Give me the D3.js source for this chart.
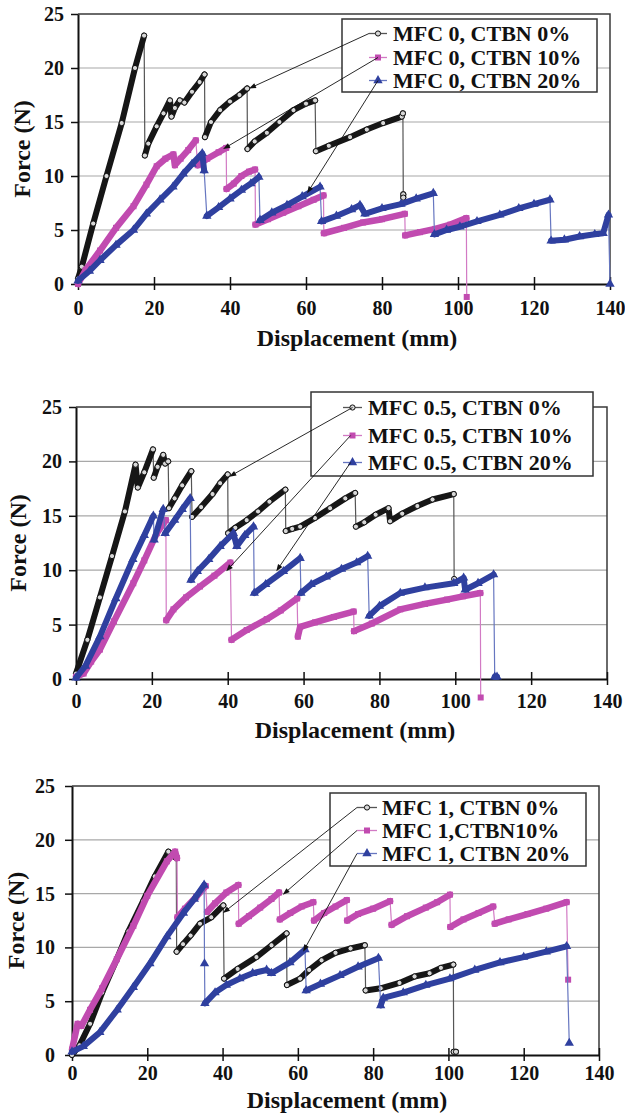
<!DOCTYPE html>
<html>
<head>
<meta charset="utf-8">
<script src="https://cdn.jsdelivr.net/npm/d3@7"></script>
<style>
  body { margin: 0; background: #fff; }
  svg text { font-family: "Liberation Serif", "Times New Roman", serif; font-weight: bold; fill: #111; }
</style>
</head>
<body>
<svg id="grafico" width="625" height="1115"></svg>
<script>
const xTicks = [0, 20, 40, 60, 80, 100, 120, 140];
const yTicks = [0, 5, 10, 15, 20, 25];

const legendas1 = ['MFC 0, CTBN 0%', 'MFC 0, CTBN 10%', 'MFC 0, CTBN 20%'];
const legendas2 = ['MFC 0.5, CTBN 0%', 'MFC 0.5, CTBN 10%', 'MFC 0.5, CTBN 20%'];
const legendas3 = ['MFC 1, CTBN 0%', 'MFC 1,CTBN10%', 'MFC 1, CTBN 20%'];

// [deslocamento (mm), forca (N)]
const p1Ctbn0 = [[0,0.5],[1,1.6],[4,5.6],[7.5,10],[11.5,14.9],[15,20],[17.4,23],[17.6,11.9],[18.5,13],[20.7,14.6],[22.5,15.8],[24.2,17],[24.6,15.5],[25.5,16.3],[26.8,17],[28,16.8],[30,17.8],[32,18.7],[33.3,19.4],[33.4,13.6],[35,15],[37.4,16.1],[40,16.9],[42.5,17.5],[44.5,18.1],[44.6,12.5],[46.5,13.2],[49.7,14],[53,15],[56.7,16.1],[60,16.7],[62.4,17],[62.6,12.3],[66,12.8],[71.6,13.6],[76,14.3],[80.3,14.9],[85.2,15.5],[85.5,15.8],[85.6,8.3],[85.6,8.0]];
const p1Ctbn10 = [[0,0],[2,1.3],[5.8,3.1],[10,5.2],[14.6,7.2],[18,9.2],[20.7,10.9],[23,11.6],[25.1,12],[25.5,11],[27,11.6],[29,12.4],[31,13.3],[31.5,11],[34,11.6],[37,12.2],[39,12.6],[39.1,8.8],[41,9.3],[43,10],[45,10.4],[46.6,10.6],[46.7,5.5],[50,6],[54,6.6],[58,7.2],[62,7.8],[64.6,8.2],[64.7,4.7],[70,5.2],[75,5.7],[80,6],[86,6.5],[86.1,4.5],[90,4.8],[94,5.1],[98,5.5],[102.2,6.1],[102.3,-1.2]];
const p1Ctbn20 = [[0,0.3],[3,1.2],[5.8,2.2],[10,3.6],[14.6,5],[18,6.5],[21.6,7.8],[25,9],[27.7,10.2],[30,11.1],[32.7,12.1],[33.2,10.5],[33.9,6.3],[37,7.1],[40,7.9],[43,8.7],[45.5,9.3],[47.6,9.9],[47.9,5.9],[51,6.6],[55,7.3],[59,8.1],[63.7,9],[64.1,5.8],[68,6.3],[72,6.9],[74.2,7.3],[75.5,6.5],[80,7],[85,7.4],[89,7.9],[93.5,8.4],[93.8,4.6],[97,5],[100.5,5.3],[105,5.8],[111,6.4],[116,7],[120,7.4],[124.2,7.8],[124.5,4],[128,4.1],[132,4.4],[136,4.6],[138.2,4.7],[139.6,6.4],[140,0]];

const p2Ctbn0 = [[0,0.5],[3,3.6],[6.3,7.5],[9.5,11.3],[12.9,15.4],[15.7,19.7],[16.3,17.6],[18,19],[20.3,21.1],[20.5,18.5],[21.5,19.5],[23,20.6],[23.5,19.8],[24.3,20],[24.5,15.7],[26,16.6],[28,17.8],[30.4,19.1],[30.6,14.9],[33,15.8],[36,17],[38,18],[40,18.8],[40.1,13.4],[42,13.9],[45,14.6],[48,15.4],[51,16.3],[55.2,17.4],[55.3,13.6],[57,13.8],[59.1,14],[63,14.8],[67,15.7],[71,16.6],[73.6,17.1],[73.8,14],[76,14.4],[79,15.1],[82.4,15.7],[82.8,14.5],[86,15.2],[90,15.9],[94,16.5],[99.6,17],[99.7,9.2]];
const p2Ctbn10 = [[0,0.2],[2,0.5],[4,1.6],[6.3,2.7],[10,5.3],[15.1,8.8],[18,10.9],[21.3,13.4],[23.7,14.6],[23.8,5.4],[25.7,6.4],[29,7.5],[32.7,8.5],[36.5,9.5],[40.7,10.7],[41,3.6],[45,4.5],[50.3,5.5],[54,6.3],[58.3,7.4],[58.5,3.9],[59.1,4.8],[63,5.2],[68,5.7],[73.2,6.2],[73.3,4.4],[78,5.1],[85.5,6.4],[92,6.9],[97.8,7.3],[102,7.6],[106.6,7.9],[106.7,-1.7]];
const p2Ctbn20 = [[0,0.1],[2.5,1.2],[6.3,3.9],[10.5,7.4],[15,11],[18,13.2],[20.4,15],[20.6,12.8],[23,15.6],[23.5,13.4],[26,14.6],[28,15.6],[30.1,16.6],[30.3,9.1],[32,9.9],[35,11],[38,12.2],[41.5,13.4],[42.4,12.2],[44.5,13.2],[46.8,14],[47,7.9],[50,8.7],[54.7,9.9],[59.1,11.1],[59.3,7.9],[62,8.7],[66,9.4],[70,10.1],[74,10.7],[76.9,11.3],[77.3,5.8],[80,6.7],[85.5,7.9],[92,8.4],[99.6,8.8],[102.2,9.3],[102.6,8.2],[106,8.8],[110.1,9.6],[110.4,0.2],[111,0.2]];

const p3Ctbn0 = [[0,0],[2,0.9],[4.8,2.9],[8,5.8],[11.9,8.9],[15,11.5],[18.9,14.3],[22,16.6],[25.6,18.9],[27.7,18.3],[27.8,9.6],[29.5,10.3],[31.5,11.1],[34,12.2],[37,12.8],[40.2,13.9],[40.4,7.1],[44,8],[49,9.1],[53,10.2],[57,11.3],[57.1,6.5],[60.6,7.1],[63,7.9],[66.3,8.8],[70,9.5],[74,9.9],[77.8,10.2],[78,6],[82,6.2],[87,6.7],[91,7.3],[95,7.6],[98,8.1],[101.3,8.4],[101.4,0.3],[102,0.3]];
const p3Ctbn10 = [[0,0.5],[1.5,2.9],[2.5,2.7],[4.8,4.2],[8,6.2],[11.9,8.9],[16.3,12],[20,14.8],[25.2,18],[27.4,18.9],[27.9,18.3],[28,12.8],[30,13.6],[33,14.7],[35.5,15.7],[35.9,13.3],[38,14.1],[41,15.1],[44.2,15.8],[44.3,12.2],[47,12.9],[50,13.7],[53,14.5],[55,15.1],[55.2,12.6],[58,13.2],[61,13.8],[64.1,14.2],[64.3,12.5],[67,13.2],[70,13.8],[73,14.4],[73.1,12.5],[76,13.1],[80,13.6],[84.5,14.3],[84.9,12.1],[89,12.9],[94,13.7],[97,14.2],[100.4,14.9],[100.5,11.9],[104,12.6],[108,13.2],[111.9,13.8],[112.3,12.2],[116,12.6],[121,13.1],[126,13.6],[131.4,14.2],[131.8,7]];
const p3Ctbn20 = [[0,0.3],[3,0.8],[7.4,2.1],[12,4.2],[16.3,6.3],[20.7,8.5],[25.2,11],[29.6,13.2],[32.5,14.5],[35.1,15.8],[35.2,8.5],[35.3,4.8],[38,5.8],[41,6.5],[44.6,7.1],[48,7.6],[51.7,7.9],[53,7.6],[57.9,8.6],[61.9,9.8],[62.2,6],[66,6.6],[71.2,7.4],[76,8.2],[81.4,9],[82,4.6],[82.7,5.3],[88,5.8],[94,6.5],[100.4,7.1],[107,7.9],[113.7,8.6],[120,9.1],[126,9.6],[131.4,10.1],[132.1,1.1]];

// pontos das curvas indicados pelas setas da legenda
const alvos1 = [[45, 18.1], [38.2, 12.5], [60.3, 8.4]];
const alvos2 = [[40.4, 18.6], [39.6, 9.9], [52.8, 9.9]];
const alvos3 = [[40.1, 13.2], [56, 14.9], [61.4, 9.6]];

const estilos = [
  { cor: '#161616', fina: '#555', marcador: 'circulo', espessura: 6 },
  { cor: '#c14bb0', fina: '#d27ac4', marcador: 'quadrado', espessura: 6.5 },
  { cor: '#2f409f', fina: '#6676c0', marcador: 'triangulo', espessura: 6 }
];

const svg = d3.select('#grafico');

function marcador(g, tipo, cor, px, py) {
  if (tipo === 'circulo') {
    g.append('circle').attr('cx', px).attr('cy', py).attr('r', 2.6)
      .attr('fill', '#d8d8d8').attr('stroke', '#111').attr('stroke-width', 1);
  } else if (tipo === 'quadrado') {
    g.append('rect').attr('x', px - 3).attr('y', py - 3).attr('width', 6).attr('height', 6).attr('fill', cor);
  } else {
    g.append('path').attr('d', d3.symbol(d3.symbolTriangle, 38)()).attr('transform', `translate(${px},${py})`).attr('fill', cor);
  }
}

function criaPainel(cfg, series, legendas, alvos) {
  const x = d3.scaleLinear().domain([0, 140]).range([cfg.esquerda, cfg.direita]);
  const y = d3.scaleLinear().domain([0, 25]).range([cfg.inferior, cfg.superior]);
  const g = svg.append('g');

  g.append('g').selectAll('line')
    .data(yTicks.filter(v => v > 0 && v < 25))
    .enter().append('line')
    .attr('x1', x(0)).attr('x2', x(140))
    .attr('y1', d => y(d)).attr('y2', d => y(d))
    .attr('stroke', '#a8a8a8').attr('stroke-width', 1.2);

  g.append('path')
    .attr('d', `M${x(0)},${y(25)}H${x(140)}V${y(0)}`)
    .attr('fill', 'none').attr('stroke', '#3a3a3a').attr('stroke-width', 1.5);

  const eixoX = d3.axisBottom(x).tickValues(xTicks).tickSize(6).tickSizeOuter(0).tickPadding(cfg.padX);
  const gx = g.append('g').attr('transform', `translate(0,${y(0)})`).call(eixoX);
  gx.select('.domain').attr('stroke', '#111').attr('stroke-width', 2);
  gx.selectAll('.tick line').attr('y1', -7).attr('stroke', '#111').attr('stroke-width', 1.5);
  gx.selectAll('.tick text').style('font-size', '20px');

  const eixoY = d3.axisLeft(y).tickValues(yTicks).tickSize(7).tickSizeOuter(0).tickPadding(cfg.padY);
  const gy = g.append('g').attr('transform', `translate(${x(0)},0)`).call(eixoY);
  gy.select('.domain').attr('stroke', '#111').attr('stroke-width', 2);
  gy.selectAll('.tick line').attr('stroke', '#111').attr('stroke-width', 1.5);
  gy.selectAll('.tick text').style('font-size', '20px');

  g.append('text')
    .attr('transform', `translate(${cfg.tituloYx},${(y(0) + y(25)) / 2}) rotate(-90)`)
    .style('text-anchor', 'middle').style('font-size', '24px')
    .text('Force (N)');

  g.append('text')
    .attr('x', cfg.tituloXx).attr('y', cfg.tituloXy)
    .style('text-anchor', 'middle').style('font-size', '24px')
    .text('Displacement (mm)');

  const linha = d3.line().x(d => x(d[0])).y(d => y(d[1]));

  series.forEach((dados, i) => {
    const s = estilos[i];
    const gs = g.append('g');
    gs.append('path').attr('d', linha(dados))
      .attr('fill', 'none').attr('stroke', s.fina).attr('stroke-width', 1.2);

    // trechos de carregamento (sem as quedas bruscas)
    const trechos = [];
    let atual = [dados[0]];
    for (let k = 1; k < dados.length; k++) {
      const a = dados[k - 1], b = dados[k];
      const dx = b[0] - a[0], dy = b[1] - a[1];
      const queda = dy < -1 && dy / Math.max(dx, 0.01) < -4;
      if (queda) {
        if (atual.length > 1) trechos.push(atual);
        atual = [b];
      } else {
        atual.push(b);
      }
    }
    if (atual.length > 1) trechos.push(atual);

    trechos.forEach(t => {
      gs.append('path').attr('d', linha(t))
        .attr('fill', 'none').attr('stroke', s.cor).attr('stroke-width', s.espessura)
        .attr('stroke-linejoin', 'round').attr('stroke-linecap', 'round');
    });

    dados.forEach(d => marcador(gs, s.marcador, s.cor, x(d[0]), y(d[1])));
  });

  const L = cfg.legenda;
  g.append('rect')
    .attr('x', L.x0).attr('y', L.y0)
    .attr('width', L.x1 - L.x0).attr('height', L.y1 - L.y0)
    .attr('fill', '#fff').attr('stroke', '#333').attr('stroke-width', 1.5);

  legendas.forEach((rotulo, i) => {
    const s = estilos[i];
    const base = L.linhas[i];
    const my = base - 7.5;
    const mx = (L.a + L.b) / 2;
    g.append('line').attr('x1', L.a).attr('x2', L.b).attr('y1', my).attr('y2', my)
      .attr('stroke', s.fina).attr('stroke-width', 1.3);
    marcador(g, s.marcador, s.cor, mx, my);
    g.append('text').attr('x', L.texto).attr('y', base).style('font-size', '22px').text(rotulo);

    // seta ligando a legenda a curva
    const sx = L.a + (L.b - L.a) * L.origem[i];
    const tx = x(alvos[i][0]), ty = y(alvos[i][1]);
    const ang = Math.atan2(ty - my, tx - sx);
    const c = Math.cos(ang), sn = Math.sin(ang);
    g.append('line').attr('x1', sx).attr('y1', my).attr('x2', tx - 5 * c).attr('y2', ty - 5 * sn)
      .attr('stroke', '#111').attr('stroke-width', 0.9);
    const p = [
      [tx, ty],
      [tx - 7 * c - 2.6 * sn, ty - 7 * sn + 2.6 * c],
      [tx - 7 * c + 2.6 * sn, ty - 7 * sn - 2.6 * c]
    ];
    g.append('polygon').attr('points', p.map(q => q.join(',')).join(' ')).attr('fill', '#111');
  });
}

criaPainel({
  esquerda: 78, direita: 610, superior: 14, inferior: 284,
  padX: 11, padY: 7, tituloYx: 30, tituloXx: 357, tituloXy: 346,
  legenda: { x0: 342, y0: 19, x1: 597, y1: 92, linhas: [41, 65, 88], a: 369, b: 387, texto: 393, origem: [0, 0.5, 0.5] }
}, [p1Ctbn0, p1Ctbn10, p1Ctbn20], legendas1, alvos1);

criaPainel({
  esquerda: 76, direita: 607, superior: 407, inferior: 679,
  padX: 9, padY: 7, tituloYx: 26, tituloXx: 355, tituloXy: 738,
  legenda: { x0: 311, y0: 392, x1: 593, y1: 476, linhas: [415, 443, 470], a: 343, b: 362, texto: 368, origem: [0.5, 0.4, 0.4] }
}, [p2Ctbn0, p2Ctbn10, p2Ctbn20], legendas2, alvos2);

criaPainel({
  esquerda: 72, direita: 599, superior: 786, inferior: 1055,
  padX: 5, padY: 10, tituloYx: 24, tituloXx: 347, tituloXy: 1108,
  legenda: { x0: 330, y0: 793, x1: 586, y1: 866, linhas: [815, 838, 861], a: 357, b: 377, texto: 382, origem: [0, 0, 0] }
}, [p3Ctbn0, p3Ctbn10, p3Ctbn20], legendas3, alvos3);
</script>
</body>
</html>
